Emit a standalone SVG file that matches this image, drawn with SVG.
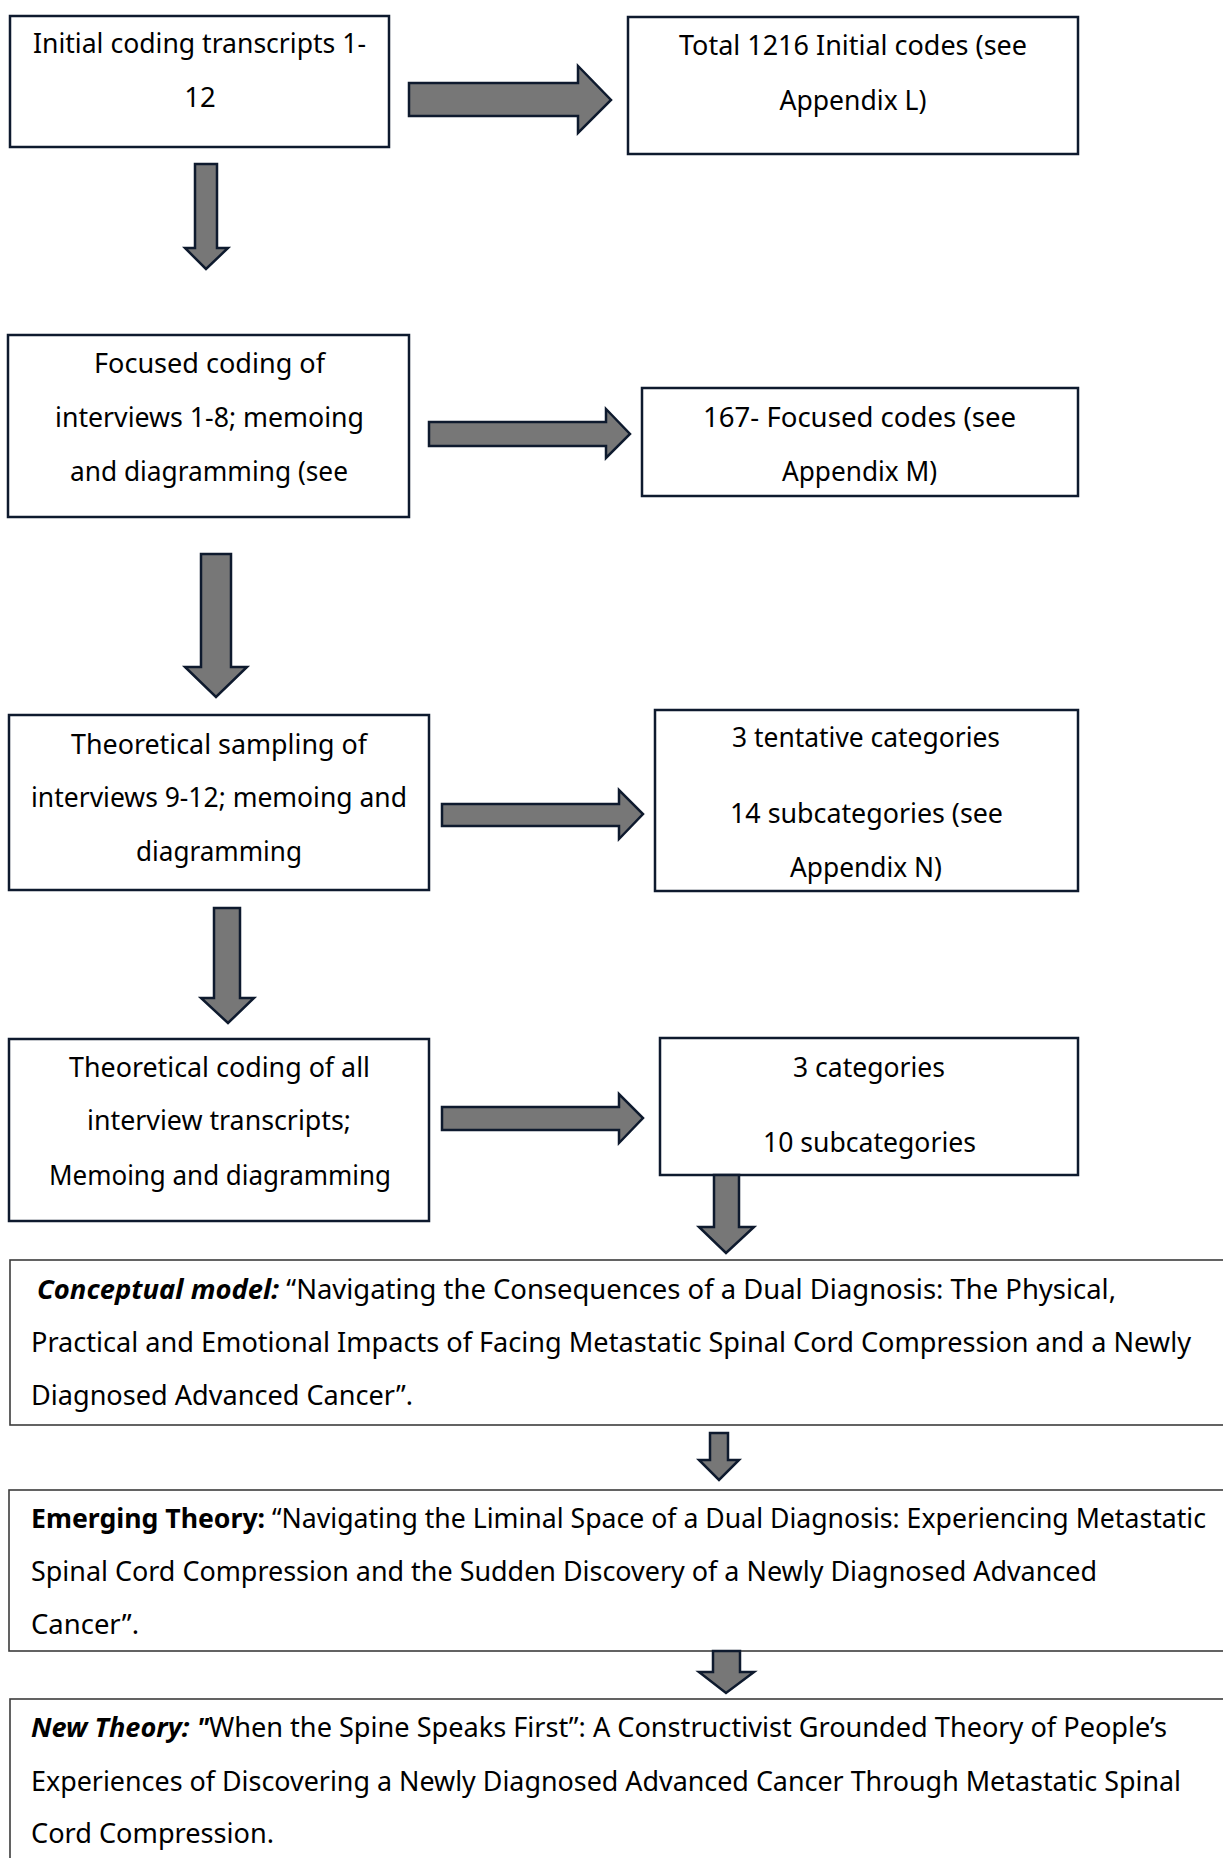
<svg xmlns="http://www.w3.org/2000/svg" width="1223" height="1858" viewBox="0 0 1223 1858">
  <style>
    .box { fill: #ffffff; stroke: #0e1a2e; stroke-width: 2.5; }
    .wide { fill: #ffffff; stroke: #3c3c3c; stroke-width: 1.6; }
    .arrow { fill: #777777; stroke: #0e1a2e; stroke-width: 2.5; stroke-linejoin: miter; }
    text { font-family: "Noto Sans", "Open Sans", "Liberation Sans", sans-serif; font-size: 27.5px; fill: #000000; }
    .c { text-anchor: middle; }
    .w { font-size: 27px; }
    .b { font-weight: bold; }
    .bi { font-weight: bold; font-style: italic; }
  </style>
  <rect x="0" y="0" width="1223" height="1858" fill="#ffffff"/>

  <!-- connectors -->
  <g id="connectors">
    <polygon class="arrow" points="409,83 578,83 578,66 611,100 578,133 578,116 409,116"/>
    <polygon class="arrow" points="195,164 217,164 217,248 228,248 206,269 185,248 195,248"/>
    <polygon class="arrow" points="429,422 606,422 606,409 630,434 606,458 606,446 429,446"/>
    <polygon class="arrow" points="201,554 231,554 231,667 247,667 216,697 185,667 201,667"/>
    <polygon class="arrow" points="442,804 619,804 619,790 643,814 619,839 619,826 442,826"/>
    <polygon class="arrow" points="214,908 240,908 240,998 254,998 228,1023 201,998 214,998"/>
    <polygon class="arrow" points="442,1107 619,1107 619,1094 643,1118 619,1143 619,1130 442,1130"/>
  </g>

  <!-- step 1 -->
  <g id="initial-coding">
    <rect class="box" x="10" y="16" width="379" height="131"/>
    <text class="c" x="199.5" y="53" textLength="333" lengthAdjust="spacingAndGlyphs">Initial coding transcripts 1-</text>
    <text class="c" x="200" y="107">12</text>
  </g>
  <g id="initial-codes">
    <rect class="box" x="628" y="17" width="450" height="137"/>
    <text class="c" x="853" y="55" textLength="348" lengthAdjust="spacingAndGlyphs">Total 1216 Initial codes (see</text>
    <text class="c" x="853" y="110" textLength="147" lengthAdjust="spacingAndGlyphs">Appendix L)</text>
  </g>

  <!-- step 2 -->
  <g id="focused-coding">
    <rect class="box" x="8" y="335" width="401" height="182"/>
    <text class="c" x="209.5" y="373" textLength="231" lengthAdjust="spacingAndGlyphs">Focused coding of</text>
    <text class="c" x="209.5" y="427" textLength="309" lengthAdjust="spacingAndGlyphs">interviews 1-8; memoing</text>
    <text class="c" x="209" y="481" textLength="278" lengthAdjust="spacingAndGlyphs">and diagramming (see</text>
  </g>
  <g id="focused-codes">
    <rect class="box" x="642" y="388" width="436" height="108"/>
    <text class="c" x="859.5" y="427" textLength="313" lengthAdjust="spacingAndGlyphs">167- Focused codes (see</text>
    <text class="c" x="859.5" y="481" textLength="155" lengthAdjust="spacingAndGlyphs">Appendix M)</text>
  </g>

  <!-- step 3 -->
  <g id="theoretical-sampling">
    <rect class="box" x="9" y="715" width="420" height="175"/>
    <text class="c" x="219" y="754" textLength="296" lengthAdjust="spacingAndGlyphs">Theoretical sampling of</text>
    <text class="c" x="219" y="807" textLength="376" lengthAdjust="spacingAndGlyphs">interviews 9-12; memoing and</text>
    <text class="c" x="219" y="861" textLength="166" lengthAdjust="spacingAndGlyphs">diagramming</text>
  </g>
  <g id="tentative-categories">
    <rect class="box" x="655" y="710" width="423" height="181"/>
    <text class="c" x="866" y="747" textLength="268" lengthAdjust="spacingAndGlyphs">3 tentative categories</text>
    <text class="c" x="866.5" y="823" textLength="273" lengthAdjust="spacingAndGlyphs">14 subcategories (see</text>
    <text class="c" x="866" y="877" textLength="152" lengthAdjust="spacingAndGlyphs">Appendix N)</text>
  </g>

  <!-- step 4 -->
  <g id="theoretical-coding">
    <rect class="box" x="9" y="1039" width="420" height="182"/>
    <text class="c" x="219.5" y="1077" textLength="301" lengthAdjust="spacingAndGlyphs">Theoretical coding of all</text>
    <text class="c" x="219" y="1130" textLength="264" lengthAdjust="spacingAndGlyphs">interview transcripts;</text>
    <text class="c" x="220" y="1185" textLength="342" lengthAdjust="spacingAndGlyphs">Memoing and diagramming</text>
  </g>
  <g id="categories">
    <rect class="box" x="660" y="1038" width="418" height="137"/>
    <text class="c" x="869" y="1077" textLength="152" lengthAdjust="spacingAndGlyphs">3 categories</text>
    <text class="c" x="869.5" y="1152" textLength="213" lengthAdjust="spacingAndGlyphs">10 subcategories</text>
  </g>

  <!-- model and theory stages -->
  <g id="conceptual-model">
    <rect class="wide" x="10" y="1260" width="1240" height="165"/>
    <text class="w" x="37" y="1299" textLength="1079" lengthAdjust="spacingAndGlyphs"><tspan class="bi">Conceptual model:</tspan> “Navigating the Consequences of a Dual Diagnosis: The Physical,</text>
    <text class="w" x="31" y="1352" textLength="1160" lengthAdjust="spacingAndGlyphs">Practical and Emotional Impacts of Facing Metastatic Spinal Cord Compression and a Newly</text>
    <text class="w" x="31" y="1405" textLength="382" lengthAdjust="spacingAndGlyphs">Diagnosed Advanced Cancer”.</text>
  </g>
  <g id="emerging-theory">
    <rect class="wide" x="9" y="1490" width="1240" height="161"/>
    <text class="w" x="31" y="1528" textLength="1175" lengthAdjust="spacingAndGlyphs"><tspan class="b">Emerging Theory:</tspan> “Navigating the Liminal Space of a Dual Diagnosis: Experiencing Metastatic</text>
    <text class="w" x="31" y="1581" textLength="1066" lengthAdjust="spacingAndGlyphs">Spinal Cord Compression and the Sudden Discovery of a Newly Diagnosed Advanced</text>
    <text class="w" x="31" y="1634" textLength="108" lengthAdjust="spacingAndGlyphs">Cancer”.</text>
  </g>
  <g id="new-theory">
    <rect class="wide" x="10" y="1699" width="1240" height="180"/>
    <text class="w" x="31" y="1737" textLength="1136" lengthAdjust="spacingAndGlyphs"><tspan class="bi">New Theory: "</tspan>When the Spine Speaks First”: A Constructivist Grounded Theory of People’s</text>
    <text class="w" x="31" y="1791" textLength="1150" lengthAdjust="spacingAndGlyphs">Experiences of Discovering a Newly Diagnosed Advanced Cancer Through Metastatic Spinal</text>
    <text class="w" x="31" y="1843" textLength="243" lengthAdjust="spacingAndGlyphs">Cord Compression.</text>
  </g>

  <!-- connectors running into the stage boxes -->
  <g id="connectors-lower">
    <polygon class="arrow" points="714,1175 739,1175 739,1227 754,1227 726,1253 699,1227 714,1227"/>
    <polygon class="arrow" points="710,1433 728,1433 728,1460 739,1460 719,1480 699,1460 710,1460"/>
    <polygon class="arrow" points="713,1651 740,1651 740,1672 754,1672 726,1693 699,1672 713,1672"/>
  </g>
</svg>
